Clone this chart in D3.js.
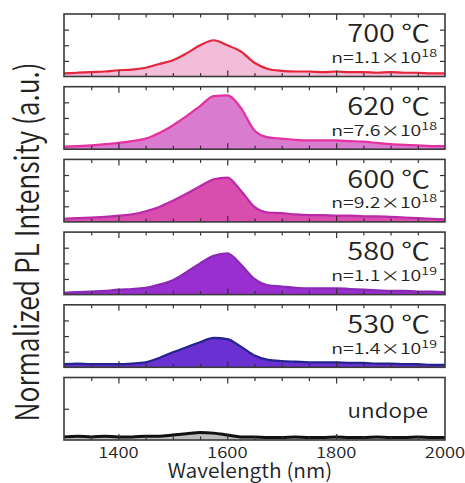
<!DOCTYPE html>
<html>
<head>
<meta charset="utf-8">
<script src="https://cdn.jsdelivr.net/npm/d3@7"></script>
<style>
    html, body { margin: 0; padding: 0; background: #fff; }
    svg text { font-family: "Noto Sans CJK JP", "Noto Sans", sans-serif; font-weight: 350; fill: #222; }
</style>
</head>
<body>
<div id="chart"></div>
<script>
"use strict";


/*
 * ============================================================================
 * Data
 * ============================================================================
 */

const WAVELENGTH = [1300, 1325, 1350, 1375, 1400, 1425, 1450, 1475, 1500, 1525,
                    1550, 1575, 1600, 1625, 1650, 1675, 1700, 1725, 1750, 1775,
                    1800, 1825, 1850, 1875, 1900, 1925, 1950, 1975, 2000];

const SAMPLES = ["700 ℃", "620 ℃", "600 ℃", "580 ℃", "530 ℃", "undope"];
const DENSITY_BASE = ["1.1", "7.6", "9.2", "1.1", "1.4", null];
const DENSITY_EXP = ["18", "18", "18", "19", "19", null];

const PL_700 = [0.05, 0.06, 0.07, 0.08, 0.10, 0.11, 0.14, 0.20, 0.26, 0.37,
                0.50, 0.58, 0.50, 0.40, 0.22, 0.12, 0.09, 0.08, 0.08, 0.07,
                0.08, 0.07, 0.07, 0.06, 0.07, 0.06, 0.06, 0.05, 0.05];
const PL_620 = [0.04, 0.05, 0.06, 0.08, 0.10, 0.13, 0.17, 0.26, 0.38, 0.53,
                0.69, 0.85, 0.86, 0.66, 0.30, 0.19, 0.17, 0.15, 0.14, 0.14,
                0.14, 0.13, 0.12, 0.10, 0.08, 0.07, 0.06, 0.05, 0.05];
const PL_600 = [0.05, 0.06, 0.07, 0.08, 0.10, 0.12, 0.17, 0.24, 0.34, 0.45,
                0.57, 0.68, 0.71, 0.50, 0.24, 0.15, 0.14, 0.12, 0.11, 0.11,
                0.10, 0.10, 0.09, 0.09, 0.08, 0.07, 0.06, 0.05, 0.04];
const PL_580 = [0.03, 0.04, 0.05, 0.06, 0.08, 0.09, 0.11, 0.16, 0.23, 0.36,
                0.50, 0.62, 0.66, 0.48, 0.25, 0.15, 0.13, 0.11, 0.10, 0.10,
                0.10, 0.09, 0.08, 0.07, 0.06, 0.06, 0.05, 0.05, 0.04];
const PL_530 = [0.05, 0.06, 0.05, 0.05, 0.05, 0.06, 0.08, 0.15, 0.24, 0.32,
                0.40, 0.47, 0.45, 0.33, 0.19, 0.12, 0.10, 0.09, 0.08, 0.08,
                0.08, 0.07, 0.07, 0.06, 0.06, 0.05, 0.05, 0.04, 0.04];
const PL_UNDOPE = [0.05, 0.06, 0.05, 0.06, 0.05, 0.05, 0.06, 0.06, 0.08, 0.10,
                   0.12, 0.11, 0.08, 0.05, 0.05, 0.04, 0.04, 0.05, 0.04, 0.04,
                   0.05, 0.04, 0.04, 0.05, 0.04, 0.04, 0.05, 0.04, 0.04];

const SPECTRA = [PL_700, PL_620, PL_600, PL_580, PL_530, PL_UNDOPE];

const MAJOR_TICKS = [1400, 1600, 1800];
const MINOR_TICKS = [1350, 1450, 1500, 1550, 1650, 1700, 1750, 1850, 1900, 1950];
const X_LABELS = [1400, 1600, 1800, 2000];

const STROKES = ["#e6243a", "#e5309f", "#b82aa8", "#8a2ab4", "#25238f", "#111111"];
const FILLS = ["#f2bdd8", "#d97bcf", "#d94dae", "#9a2ed0", "#6a30d2", "#bcbcbc"];


/*
 * ============================================================================
 * Plot
 * ============================================================================
 */

const LEFT = 64;
const RIGHT = 445;
const TOP = 14;
const STEP = 72.7;
const PANEL_H = 62.5;
const WIDTH = RIGHT - LEFT;

const svg = d3.select("#chart")
  .append("svg")
    .attr("width", 465)
    .attr("height", 483);

const x = d3.scaleLinear()
    .domain([1300, 2000])
    .range([0, WIDTH]);

const y = d3.scaleLinear()
    .domain([0, 1])
    .range([PANEL_H, 0]);

const area = d3.area()
    .x((d, i) => x(WAVELENGTH[i]))
    .y0(PANEL_H)
    .y1(d => y(d))
    .curve(d3.curveMonotoneX);

const line = d3.line()
    .x((d, i) => x(WAVELENGTH[i]))
    .y(d => y(d))
    .curve(d3.curveMonotoneX);

function ticks(g, axis, values, size) {
    g.call(axis.tickValues(values).tickSize(size).tickFormat(""));
    g.select(".domain").remove();
    g.selectAll(".tick line").attr("stroke", "#333").attr("stroke-width", 1.2);
}

SPECTRA.forEach((data, k) => {
    const g = svg.append("g")
        .attr("transform", `translate(${LEFT},${TOP + k * STEP})`);

    g.append("path")
        .datum(data)
        .attr("d", area)
        .attr("fill", FILLS[k]);

    g.append("path")
        .datum(data)
        .attr("d", line)
        .attr("fill", "none")
        .attr("stroke", STROKES[k])
        .attr("stroke-width", k === 5 ? 3 : 2.2)
        .attr("stroke-linejoin", "round");

    // Inward ticks on all four sides
    ticks(g.append("g"), d3.axisTop(x), MINOR_TICKS, -3.5);
    ticks(g.append("g"), d3.axisTop(x), MAJOR_TICKS, -6);
    ticks(g.append("g").attr("transform", `translate(0,${PANEL_H})`),
          d3.axisBottom(x), MINOR_TICKS, -3.5);
    ticks(g.append("g").attr("transform", `translate(0,${PANEL_H})`),
          d3.axisBottom(x), MAJOR_TICKS, -6);

    const yticks = k === 5 ? [0.5] : [0.25, 0.5, 0.75];
    ticks(g.append("g"), d3.axisLeft(y), yticks, -5);
    if (k < 5) {
        ticks(g.append("g").attr("transform", `translate(${WIDTH},0)`),
              d3.axisRight(y), yticks, -5);
    }

    g.append("rect")
        .attr("width", WIDTH)
        .attr("height", PANEL_H)
        .attr("fill", "none")
        .attr("stroke", "#3a3a3a")
        .attr("stroke-width", 1.6);

    // Sample labels
    if (k < 5) {
        g.append("text")
            .attr("transform", `translate(${WIDTH - 15},28.3) scale(1.2,1)`)
            .attr("text-anchor", "end")
            .style("font-size", "24px")
            .text(SAMPLES[k]);

        const n = g.append("text")
            .attr("transform", `translate(${WIDTH - 8},49) scale(1.3,1)`)
            .attr("text-anchor", "end")
            .style("font-size", "15px");
        n.append("tspan").text(`n=${DENSITY_BASE[k]}×10`);
        n.append("tspan")
            .attr("dy", -6)
            .style("font-size", "11px")
            .text(DENSITY_EXP[k]);
    } else {
        g.append("text")
            .attr("transform", `translate(${WIDTH - 17},40) scale(1.15,1)`)
            .attr("text-anchor", "end")
            .style("font-size", "19.5px")
            .text(SAMPLES[k]);
    }
});

// Wavelength tick labels under the last panel
const labelY = TOP + 5 * STEP + PANEL_H + 18;
svg.append("g")
    .selectAll("text")
    .data(X_LABELS)
  .join("text")
    .attr("transform", d => `translate(${LEFT + x(d)},${labelY}) scale(1.27,1)`)
    .attr("text-anchor", "middle")
    .style("font-size", "14.5px")
    .text(d => d);

svg.append("text")
    .attr("transform", "translate(250,478) scale(1.05,1)")
    .attr("text-anchor", "middle")
    .style("font-size", "20px")
    .text("Wavelength (nm)");

svg.append("text")
    .attr("transform", "translate(39,242) scale(1.25,1) rotate(-90)")
    .attr("text-anchor", "middle")
    .style("font-size", "26.5px")
    .text("Normalized PL Intensity (a.u.)");
</script>
</body>
</html>
